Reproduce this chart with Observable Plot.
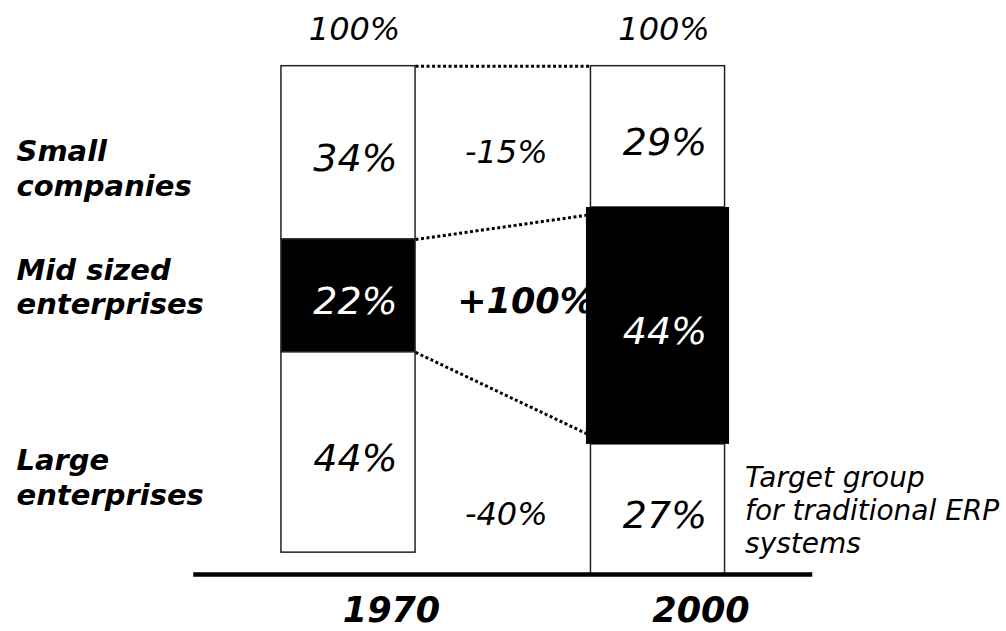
<!DOCTYPE html>
<html><head><meta charset="utf-8">
<script src="https://cdn.jsdelivr.net/npm/d3@7"></script>
<script src="https://cdn.jsdelivr.net/npm/@observablehq/plot@0.6"></script>
<style>html,body{margin:0;padding:0;background:#fff}</style>
</head><body><div id="chart"></div>
<script>
// ---- data ----
const years = [1970, 2000];
const totals = ["100%", "100%"];
const categories = ["Small companies", "Mid sized enterprises", "Large enterprises"];
const categoryLines = ["Small\ncompanies", "Mid sized\nenterprises", "Large\nenterprises"];
const share1970 = [34, 22, 44];
const share2000 = [29, 44, 27];
const change = ["-15%", "+100%", "-40%"];
// segment edges as drawn, on the 0–100 scale (top to bottom)
const edges1970 = [100, 65.9, 43.7, 4.3];
const edges2000 = [100, 72.2, 25.6, 0];
// dotted connectors: level on the 1970 bar -> level on the 2000 bar
const connectFrom = [100, 65.9, 43.7];
const connectTo = [100, 70.8, 27.3];
// label levels on the 0–100 scale
const categoryLabelY = [80.1, 56.8, 19.3];
const changeLabelY = [83.0, 53.7, 11.8];
const note = "Target group\nfor traditional ERP\nsystems";

// ---- build tables ----
const HALF = 6.5; // half bar width, in years
const edges = {1970: edges1970, 2000: edges2000};
const shares = {1970: share1970, 2000: share2000};
const segments = [];
for (const yr of years) {
  categories.forEach((c, j) => {
    segments.push({
      year: yr, category: c, share: shares[yr][j],
      y1: edges[yr][j + 1], y2: edges[yr][j],
      mid: j === 1
    });
  });
}
const rows = categories.map((c, i) => ({
  category: c, lines: categoryLines[i], y: categoryLabelY[i],
  change: change[i], changeY: changeLabelY[i]
}));
const links = connectFrom.map((v, i) => ({y1: v, y2: connectTo[i]}));
const midYear = (years[0] + years[1]) / 2;
const last2000 = segments.find(d => d.year === 2000 && d.category === categories[2]);

const chart = Plot.plot({
  width: 1006,
  height: 631,
  margin: 0,
  style: {fontFamily: "DejaVu Sans", background: "white", overflow: "visible"},
  x: {type: "linear", domain: [1970, 2000], range: [348, 657.5], axis: null},
  y: {domain: [0, 100], range: [574, 65.7], axis: null},
  marks: [
    // dotted connectors
    Plot.link(links, {
      x1: () => years[0] + HALF, x2: () => years[1] - HALF,
      y1: "y1", y2: "y2",
      stroke: "black", strokeWidth: 3, strokeDasharray: "3 2.5"
    }),
    // change labels (drawn before the bars so the box clips "+100%")
    Plot.text(rows.filter(d => !d.change.startsWith("+")), {
      x: () => midYear, y: "changeY", text: "change",
      fontSize: 32, fontStyle: "italic", dx: 3, fill: "black"
    }),
    Plot.text(rows.filter(d => d.change.startsWith("+")), {
      x: () => midYear, y: "changeY", text: "change",
      fontSize: 35, fontStyle: "italic", fontWeight: "bold",
      textAnchor: "start", dx: -46, fill: "black"
    }),
    // bars
    Plot.rect(segments.filter(d => !(d.year === 2000 && d.mid)), {
      x1: d => d.year - HALF, x2: d => d.year + HALF,
      y1: "y1", y2: "y2",
      fill: d => d.mid ? "black" : "white",
      stroke: "#222", strokeWidth: 1.5
    }),
    Plot.rect(segments.filter(d => d.year === 2000 && d.mid), {
      x1: d => d.year - HALF, x2: d => d.year + HALF,
      y1: "y1", y2: "y2",
      fill: "black", insetLeft: -4.5, insetRight: -4.5
    }),
    // baseline
    Plot.ruleY([0], {x1: years[0] - 15, x2: years[1] + 15, stroke: "black", strokeWidth: 4.5}),
    // share labels in bars
    Plot.text(segments, {
      x: "year", y: d => (d.y1 + d.y2) / 2, text: d => d.share + "%",
      fill: d => d.mid ? "white" : "black",
      fontSize: 38, fontStyle: "italic", dx: 7, dy: 6
    }),
    // totals on top
    Plot.text(years, {
      x: d => d, y: () => 100, text: (d, i) => totals[i],
      fontSize: 32, fontStyle: "italic", dx: 6, dy: -36, fill: "black"
    }),
    // year labels
    Plot.text(years, {
      x: d => d, y: () => 0, text: d => String(d),
      fontSize: 35, fontStyle: "italic", fontWeight: "bold", dx: 43, dy: 36, fill: "black"
    }),
    // category labels on the left
    Plot.text(rows, {
      frameAnchor: "left", y: "y", text: "lines",
      textAnchor: "start", dx: 16, lineHeight: 1.2,
      fontSize: 29, fontStyle: "italic", fontWeight: "bold", fill: "black"
    }),
    // note
    Plot.text([note], {
      x: () => 2000 + HALF, y: () => (last2000.y1 + last2000.y2) / 2, text: d => d,
      textAnchor: "start", dx: 20, lineHeight: 1.18,
      fontSize: 28, fontStyle: "italic", fill: "black"
    })
  ]
});
document.getElementById("chart").appendChild(chart);
</script>
</body></html>
